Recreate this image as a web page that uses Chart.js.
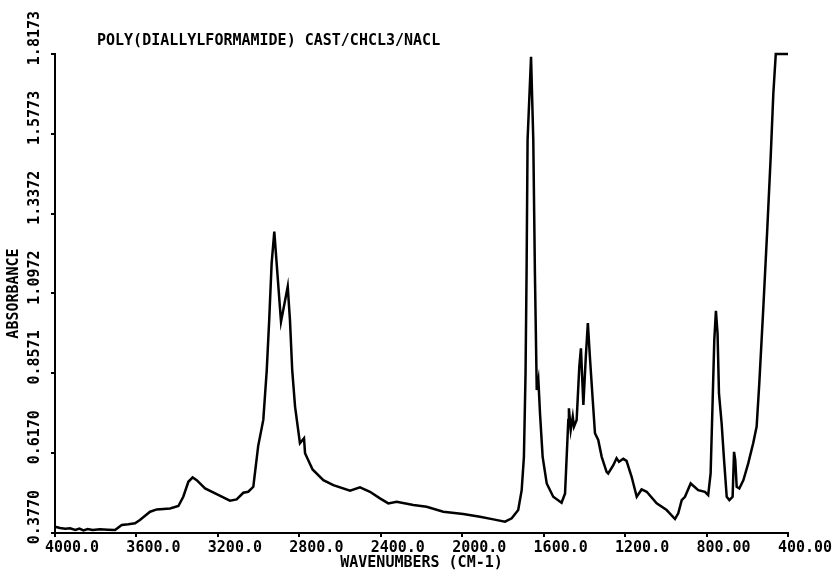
<!DOCTYPE html>
<html>
<head>
<meta charset="utf-8">
<script src="https://cdn.jsdelivr.net/npm/chart.js@4"></script>
<style>
  html, body { margin: 0; padding: 0; background: #fff; }
  #wrap { width: 837px; height: 572px; }
</style>
</head>
<body>
<div id="wrap"><canvas id="irChart"></canvas></div>
<script>
// IR spectrum
let wavenumbers = [4000, 3975, 3950, 3926, 3900, 3880, 3860, 3840, 3815, 3779, 3740, 3705, 3672, 3640, 3607, 3583, 3533,
  3500, 3435, 3394, 3370, 3345, 3324, 3304, 3263, 3206, 3141, 3108, 3075, 3051, 3026, 3002, 2977, 2960,
  2948, 2936, 2923, 2890, 2857, 2846, 2835, 2821, 2797, 2777, 2772, 2735, 2682, 2633, 2551, 2502, 2453,
  2404, 2363, 2322, 2240, 2175, 2093, 1995, 1913, 1847, 1790, 1757, 1725, 1708, 1697, 1689, 1684, 1679,
  1662, 1651, 1643, 1634, 1626, 1618, 1605, 1585, 1553, 1512, 1495, 1479, 1476, 1467, 1457, 1451, 1438,
  1425, 1417, 1405, 1393, 1383, 1373, 1359, 1348, 1332, 1315, 1291, 1283, 1258, 1242, 1230, 1209, 1193,
  1168, 1143, 1119, 1094, 1045, 996, 955, 939, 922, 906, 878, 841, 808, 792, 780, 770, 762, 754, 746,
  739, 726, 714, 701, 688, 672, 665, 659, 652, 639, 619, 595, 571, 554, 541, 521, 502, 485, 472, 460, 400];
let absorbance = [0.396, 0.392, 0.390, 0.391, 0.386, 0.390, 0.385, 0.389, 0.386, 0.388, 0.387, 0.386, 0.401, 0.403, 0.406, 0.416, 0.441,
  0.448, 0.451, 0.458, 0.486, 0.531, 0.544, 0.536, 0.511, 0.494, 0.474, 0.478, 0.498, 0.501, 0.516, 0.639, 0.717, 0.867,
  1.017, 1.188, 1.283, 1.012, 1.118, 1.017, 0.867, 0.757, 0.647, 0.662, 0.617, 0.568, 0.536, 0.521, 0.504, 0.514, 0.501,
  0.481, 0.466, 0.471, 0.461, 0.456, 0.441, 0.434, 0.426, 0.418, 0.411, 0.421, 0.446, 0.506, 0.606, 0.857, 1.158, 1.559,
  1.809, 1.559, 1.159, 0.807, 0.837, 0.737, 0.606, 0.526, 0.486, 0.468, 0.496, 0.717, 0.752, 0.687, 0.727, 0.697, 0.717,
  0.877, 0.932, 0.762, 0.907, 1.008, 0.907, 0.777, 0.677, 0.657, 0.606, 0.561, 0.556, 0.581, 0.602, 0.591, 0.600, 0.594,
  0.546, 0.486, 0.508, 0.501, 0.466, 0.446, 0.419, 0.436, 0.476, 0.486, 0.526, 0.506, 0.501, 0.491, 0.556, 0.777, 0.957, 1.045, 0.977,
  0.797, 0.707, 0.596, 0.486, 0.476, 0.486, 0.621, 0.596, 0.516, 0.511, 0.536, 0.587, 0.647, 0.697, 0.827, 1.057, 1.288, 1.508, 1.699, 1.8173, 1.8173];

let xTicks = [4000, 3600, 3200, 2800, 2400, 2000, 1600, 1200, 800, 400];
let xTickLabels = ["4000.0", "3600.0", "3200.0", "2800.0", "2400.0", "2000.0", "1600.0", "1200.0", "800.00", "400.00"];
let yTicks = [0.3770, 0.6170, 0.8571, 1.0972, 1.3372, 1.5773, 1.8173];
let yTickLabels = ["0.3770", "0.6170", "0.8571", "1.0972", "1.3372", "1.5773", "1.8173"];

let chartTitle = "POLY(DIALLYLFORMAMIDE) CAST/CHCL3/NACL";

const plotFont = { family: "'DejaVu Sans Mono', monospace", size: 15, weight: "bold" };

// plot title sits inside the frame, not centred
const titlePlugin = {
  id: "plotTitle",
  afterDraw(chart) {
    const ctx = chart.ctx;
    ctx.save();
    ctx.font = "bold 15px 'DejaVu Sans Mono', monospace";
    ctx.fillStyle = "#000";
    ctx.textAlign = "left";
    ctx.textBaseline = "middle";
    ctx.fillText(chartTitle, chart.chartArea.left + 42, 41);
    ctx.restore();
  }
};

new Chart("irChart", {
  type: "line",
  data: {
    datasets: [{
      data: wavenumbers.map((w, i) => ({ x: w, y: absorbance[i] })),
      borderColor: "#000",
      borderWidth: 2.5,
      pointRadius: 0,
      tension: 0,
      clip: 4
    }]
  },
  options: {
    responsive: true,
    maintainAspectRatio: false,
    animation: false,
    layout: { padding: { top: 54, right: 49, bottom: 0, left: 0 } },
    plugins: {
      legend: { display: false },
      tooltip: { enabled: false }
    },
    scales: {
      x: {
        type: "linear",
        reverse: true,
        min: 400,
        max: 4000,
        afterBuildTicks: s => { s.ticks = xTicks.map(v => ({ value: v })); },
        afterFit: s => { s.height = 39; },
        grid: { drawOnChartArea: false, drawTicks: true, tickLength: 4, color: "#000", lineWidth: 2 },
        border: { display: true, color: "#000", width: 2 },
        ticks: {
          autoSkip: false,
          maxRotation: 0,
          padding: 2,
          labelOffset: 17,
          color: "#000",
          font: plotFont,
          callback: (v, i) => xTickLabels[i]
        },
        title: {
          display: true,
          text: "WAVENUMBERS (CM-1)",
          color: "#000",
          font: plotFont,
          padding: { top: 0, bottom: 0 }
        }
      },
      y: {
        type: "linear",
        min: 0.3770,
        max: 1.8173,
        afterBuildTicks: s => { s.ticks = yTicks.map(v => ({ value: v })); },
        afterFit: s => { s.width = 55; },
        grid: { drawOnChartArea: false, drawTicks: true, tickLength: 4, color: "#000", lineWidth: 2 },
        border: { display: true, color: "#000", width: 2 },
        ticks: {
          autoSkip: false,
          minRotation: 90,
          maxRotation: 90,
          padding: 16,
          labelOffset: -43,
          color: "#000",
          font: plotFont,
          callback: (v, i) => yTickLabels[i]
        },
        title: {
          display: true,
          text: "ABSORBANCE",
          color: "#000",
          font: plotFont,
          padding: { top: 5, bottom: 0 }
        }
      }
    }
  },
  plugins: [titlePlugin]
});
</script>
</body>
</html>
